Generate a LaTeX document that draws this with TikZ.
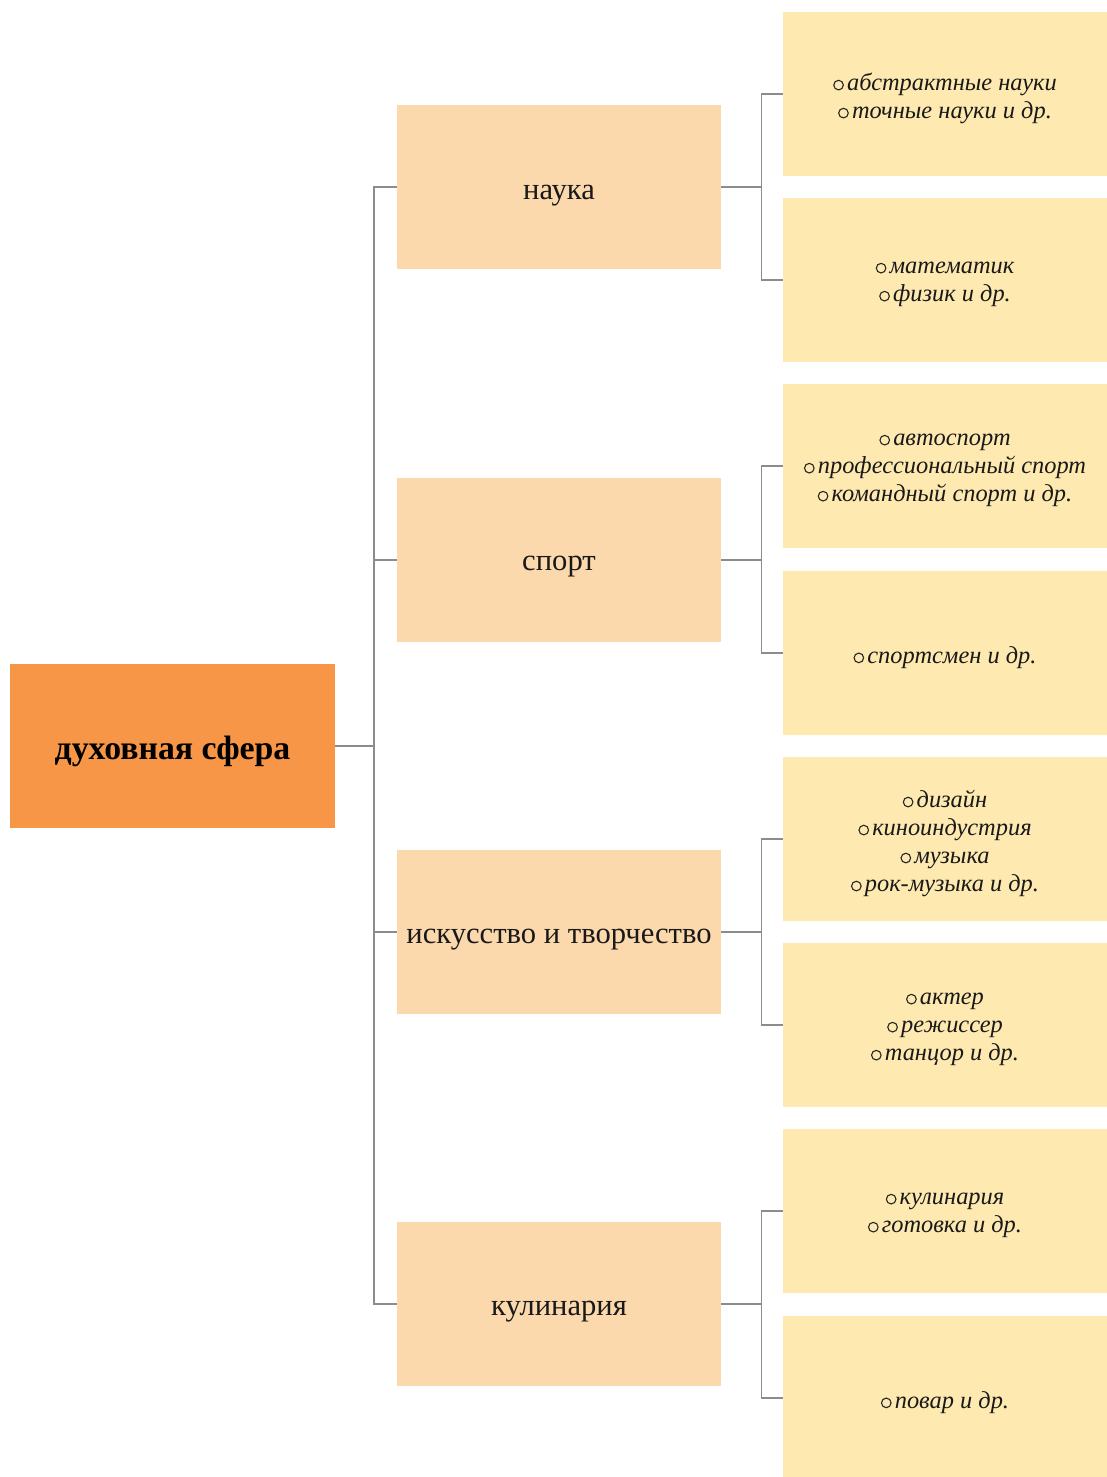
\documentclass[tikz,border=0pt]{standalone}
\usepackage{fontspec}
\setmainfont{Liberation Serif}
\definecolor{rootfill}{HTML}{F79646}
\definecolor{midfill}{HTML}{FBD9AD}
\definecolor{leaffill}{HTML}{FEE9B0}
\definecolor{linkgray}{HTML}{8C8C8C}
\tikzset{
  box/.style={minimum height=82pt, inner sep=0pt},
  rootbox/.style={box, fill=rootfill, minimum width=162.5pt},
  midbox/.style={box, fill=midfill, minimum width=162pt},
  leafbox/.style={box, fill=leaffill, minimum width=162pt},
  roottext/.style={inner sep=0pt, font=\fontsize{16.9}{20}\selectfont\bfseries, text=black},
  midtext/.style={inner sep=0pt, font=\fontsize{15.3}{18}\selectfont, text=black!90},
  leaftext/.style={inner sep=0pt, align=center, font=\fontsize{12.2}{14}\selectfont\itshape, text=black!90},
  link/.style={draw=linkgray, line width=0.65pt},
}
% hollow round bullet in front of each item
\newcommand\bl{\tikz[baseline=0pt, x=1pt, y=1pt]\draw[line width=0.55pt, black!85] (2.6pt,2.7pt) circle[radius=2.4pt];\hspace{1.6pt}}
% a box with its text set slightly below the centre
\newcommand\mybox[5]{%
  \node[#1] (#2) at (#3) {};
  \node[#4] (#2-text) at ([yshift=-2.2pt]#2.center) {#5};}
\begin{document}
\begin{tikzpicture}[x=0.5pt, y=-0.5pt]
  \clip (0,0) rectangle (1107,1477);
  \fill[white] (0,0) rectangle (1107,1477);

  % root
  \node[rootbox] (root) at (172.5,746) {};
  \node[roottext] (root-text) at ([yshift=-2.5pt]root.center) {духовная сфера};

  % second level
  \node[midbox] (m1) at (559,187)  {};
  \node[midbox] (m2) at (559,560)  {};
  \node[midbox] (m3) at (559,932)  {};
  \node[midbox] (m4) at (559,1304) {};
  \node[midtext] (m1-text) at ([yshift=-4.3pt]m1.center) {наука};
  \node[midtext] (m2-text) at ([yshift=-3.5pt]m2.center) {спорт};
  \node[midtext] (m3-text) at ([yshift=-4pt]m3.center) {искусство и творчество};
  \node[midtext] (m4-text) at ([yshift=-4pt]m4.center) {кулинария};

  % leaves
  \mybox{leafbox}{l1}{945,94}{leaftext}{\bl абстрактные науки\\\bl точные науки и др.}
  \mybox{leafbox}{l2}{945,280}{leaftext}{\bl математик\\\bl физик и др.}
  \mybox{leafbox}{l3}{945,466}{leaftext}{\bl автоспорт\\\bl профессиональный спорт\\\bl командный спорт и др.}
  \mybox{leafbox}{l4}{945,653}{leaftext}{\bl спортсмен и др.}
  \mybox{leafbox}{l5}{945,839}{leaftext}{\bl дизайн\\\bl киноиндустрия\\\bl музыка\\\bl рок-музыка и др.}
  \mybox{leafbox}{l6}{945,1025}{leaftext}{\bl актер\\\bl режиссер\\\bl танцор и др.}
  \mybox{leafbox}{l7}{945,1211}{leaftext}{\bl кулинария\\\bl готовка и др.}
  \mybox{leafbox}{l8}{945,1398}{leaftext}{\bl повар и др.}

  % trunk from root to second level
  \coordinate (trunk) at (374,746);
  \draw[link] (root.east) -- (trunk);
  \draw[link] (m1.west) -- (trunk |- m1.west) -- (trunk |- m4.west) -- (m4.west);
  \draw[link] (trunk |- m2.west) -- (m2.west);
  \draw[link] (trunk |- m3.west) -- (m3.west);

  % branches from second level to leaves
  \foreach \m/\a/\b in {m1/l1/l2, m2/l3/l4, m3/l5/l6, m4/l7/l8} {
    \coordinate (br) at ([xshift=20pt]\m.east);
    \draw[link] (\m.east) -- (br);
    \draw[link] (\a.west) -- (br |- \a.west) -- (br |- \b.west) -- (\b.west);
  }
\end{tikzpicture}
\end{document}
